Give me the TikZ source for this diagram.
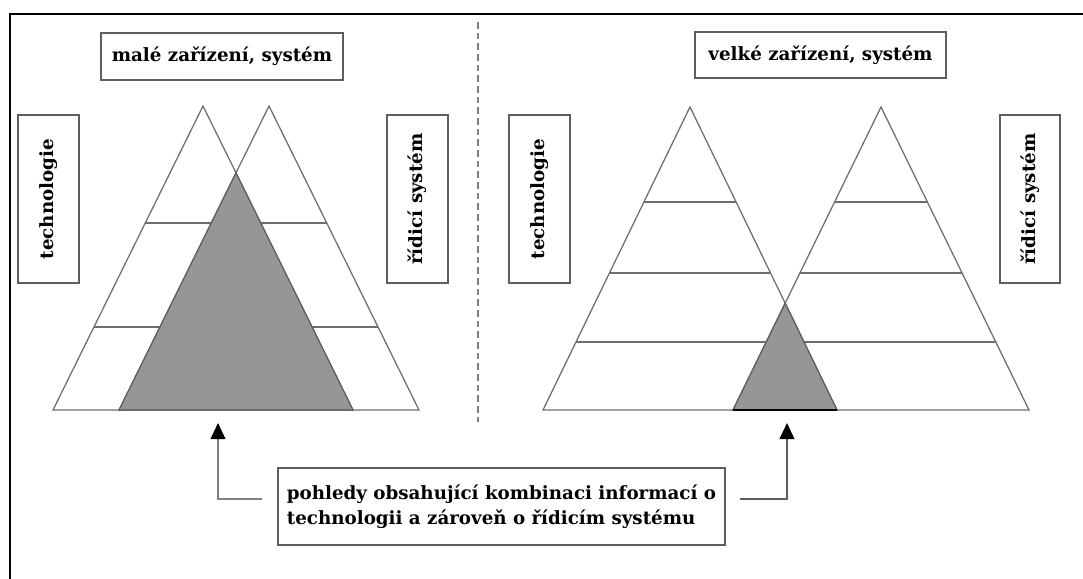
\documentclass[tikz,border=0pt]{standalone}
\usepackage{fontspec}
\setmainfont{DejaVu Serif}
\usetikzlibrary{arrows.meta,calc}

\definecolor{boxline}{HTML}{5E5E5E}
\definecolor{triline}{HTML}{6E6E6E}
\definecolor{shade}{HTML}{969696}

\begin{document}
\begin{tikzpicture}[x=0.75pt,y=-0.75pt,
  txt/.style={font=\bfseries\fontsize{13.7}{18.6}\selectfont},
  labelbox/.style={txt, draw=boxline, line width=1.1pt, inner sep=0pt},
  sidebox/.style={labelbox, minimum width=45.75pt, minimum height=126pt},
  tri/.style={draw=triline, line width=0.95pt, line join=miter},
  tier/.style={draw=triline, line width=1.1pt},
  overlap/.style={fill=shade, draw=boxline, line width=0.9pt},
  divider/.style={draw=gray, line width=1.1pt, dash pattern=on 5pt off 3pt},
  pointer/.style={line width=1.3pt, -{Triangle[length=12pt,width=11pt,black]}}
]
\useasboundingbox (0,0) rectangle (1083,579);

% frame (top and left edges)
\draw[line width=2pt] (1083,14) -- (10,14) -- (10,579);

% divider between the two cases
\draw[divider] (478,22) -- (478,422);

% ---------- small plant: two overlapping pyramids ----------
\coordinate (A)  at (203,106);
\coordinate (AL) at (53,410);
\coordinate (AR) at (353,410);
\coordinate (B)  at (269,106);
\coordinate (BL) at (119,410);
\coordinate (BR) at (419,410);

\draw[tri] (A) -- (AL) -- (AR) -- cycle;
\draw[tri] (B) -- (BL) -- (BR) -- cycle;
\foreach \t in {0.385,0.727}{
  \draw[tier] ($(A)!\t!(AL)$) -- ($(A)!\t!(AR)$);
  \draw[tier] ($(B)!\t!(BL)$) -- ($(B)!\t!(BR)$);
}
\coordinate (AB) at (236,172.9);
\draw[overlap] (AB) -- (BL) -- (AR) -- cycle;

% ---------- large plant: two pyramids touching near the base ----------
\coordinate (C)  at (690,107);
\coordinate (CL) at (543,410);
\coordinate (CR) at (837,410);
\coordinate (D)  at (881,107);
\coordinate (DL) at (733,410);
\coordinate (DR) at (1029,410);

\draw[tri] (C) -- (CL) -- (CR) -- cycle;
\draw[tri] (D) -- (DL) -- (DR) -- cycle;
\foreach \t in {0.3135,0.5479,0.7756}{
  \draw[tier] ($(C)!\t!(CL)$) -- ($(C)!\t!(CR)$);
  \draw[tier] ($(D)!\t!(DL)$) -- ($(D)!\t!(DR)$);
}
\coordinate (CD) at (785.2,303.2);
\draw[overlap] (CD) -- (DL) -- (CR) -- cycle;
\draw[line width=1.6pt, black] (DL) -- (CR);

% ---------- labels ----------
\node[labelbox, minimum width=181.5pt, minimum height=35.25pt] (small) at (222,56.5) {malé zařízení, systém};
\node[labelbox, minimum width=188.25pt, minimum height=34.5pt] (large) at (820.5,55) {velké zařízení, systém};

\node[sidebox] (techL) at (48.5,199) {\rotatebox{90}{technologie}};
\node[sidebox] (ctrlL) at (417.5,199) {\rotatebox{90}{řídicí systém}};
\node[sidebox] (techR) at (539.5,199) {\rotatebox{90}{technologie}};
\node[sidebox, minimum width=45pt] (ctrlR) at (1030,199) {\rotatebox{90}{řídicí systém}};

\node[labelbox, minimum width=335.25pt, minimum height=57.75pt, align=left] (views) at (501.5,506.5)
  {pohledy obsahující kombinaci informací o\\technologii a zároveň o řídicím systému};

% ---------- pointers from the caption to the overlaps ----------
\coordinate (lstart) at (262,499);
\coordinate (ltip)   at (218,423);
\coordinate (rstart) at (740,499);
\coordinate (rtip)   at (787,423);
\draw[pointer, draw=gray] (lstart) -| (ltip);
\draw[pointer, draw=boxline] (rstart) -| (rtip);
\end{tikzpicture}
\end{document}
